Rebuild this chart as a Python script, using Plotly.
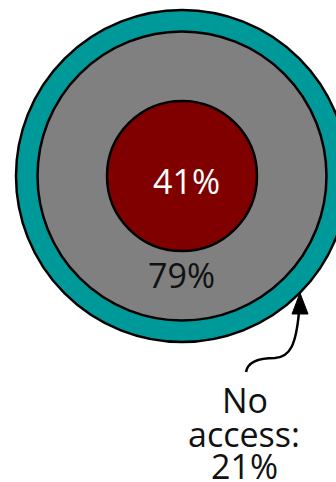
import plotly.graph_objects as go

# ---- data ----
segment_names = ["Inner group", "Access", "No access"]
segment_values = [41, 79, 21]
no_access_label = ["No", "access:"]

# ---- style ----
W, H = 336, 482
CX, CY = 182, 176
ring_radii = {"No access": 166, "Access": 144.5, "Inner group": 75}
ring_colors = {"No access": "#009999", "Access": "#808080", "Inner group": "#800000"}
FONT = "Open Sans"
FS = 34

fig = go.Figure()
fig.add_trace(go.Scatter(x=[0, W], y=[0, H], mode="markers",
                         marker=dict(opacity=0), hoverinfo="skip", showlegend=False))

shapes = []
for name in ["No access", "Access", "Inner group"]:
    r = ring_radii[name]
    shapes.append(dict(type="circle", xref="x", yref="y",
                       x0=CX - r, x1=CX + r, y0=CY - r, y1=CY + r,
                       fillcolor=ring_colors[name],
                       line=dict(color="black", width=2.5), layer="below"))

# curved arrow
shapes.append(dict(type="path", xref="x", yref="y",
                   path="M 246 372 C 248 360 262 358 275 358 C 290 357 296 345 299 312",
                   line=dict(color="black", width=2.5)))
shapes.append(dict(type="path", xref="x", yref="y",
                   path="M 300 293 L 292 314 L 308 314 Z",
                   fillcolor="black", line=dict(color="black", width=1)))

vals = dict(zip(segment_names, segment_values))


def ann(x, y, text, color, h=None):
    d = dict(x=x, y=y, text=text, showarrow=False, xref="x", yref="y",
             font=dict(family=FONT, size=FS, color=color))
    if h:
        d["height"] = h
        d["valign"] = "middle"
    return d


annotations = [
    ann(186, 181, f"{vals['Inner group']}%", "white"),
    ann(181, 275, f"{vals['Access']}%", "#111111"),
    ann(245, 400, no_access_label[0], "#111111", 30),
    ann(244, 434, no_access_label[1], "#111111", 30),
    ann(244, 466, f"{vals['No access']}%", "#111111", 30),
]

fig.update_layout(
    width=W, height=H,
    margin=dict(l=0, r=0, t=0, b=0),
    paper_bgcolor="white", plot_bgcolor="white",
    xaxis=dict(range=[0, W], visible=False, fixedrange=True),
    yaxis=dict(range=[H, 0], visible=False, fixedrange=True),
    shapes=shapes, annotations=annotations, showlegend=False,
)
fig.write_html("out.html")
